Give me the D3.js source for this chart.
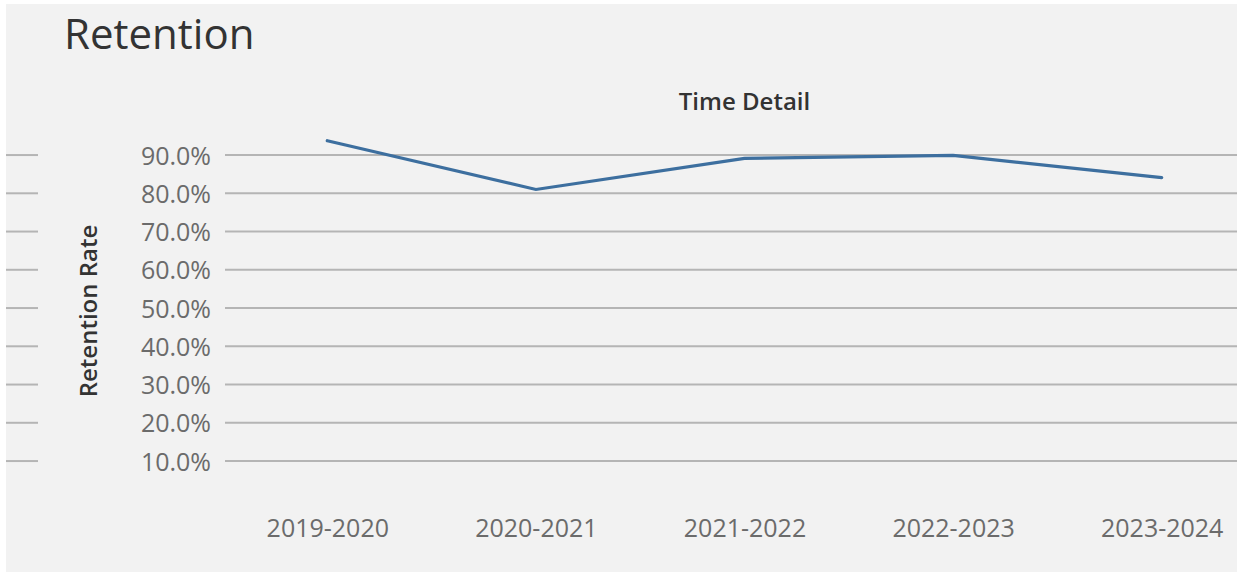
<!DOCTYPE html>
<html>
<head>
<meta charset="utf-8">
<script src="https://cdn.jsdelivr.net/npm/d3@7"></script>
<style>
  html, body { margin: 0; padding: 0; background: #ffffff; }
  svg { display: block; }
  text { font-family: "Open Sans", "Noto Sans", sans-serif; }
</style>
</head>
<body>
<svg id="chart" width="1237" height="575"></svg>
<script>
// Academic years and retention rate per year
const years = ["2019-2020", "2020-2021", "2021-2022", "2022-2023", "2023-2024"];
const retention = [0.9375, 0.810, 0.8915, 0.899, 0.841];
const yTicks = [0.1, 0.2, 0.3, 0.4, 0.5, 0.6, 0.7, 0.8, 0.9];

const W = 1237, H = 575;
const svg = d3.select("#chart");

// card background
svg.append("rect")
  .attr("x", 6).attr("y", 4)
  .attr("width", W - 6).attr("height", H - 7)
  .attr("fill", "#f2f2f2");

const plot = { left: 223, right: 1266, top: 116.8, bottom: 499.3 };

const x = d3.scalePoint()
  .domain(years)
  .range([plot.left, plot.right])
  .padding(0.5);

const y = d3.scaleLinear()
  .domain([0, 1])
  .range([plot.bottom, plot.top]);

// title
svg.append("text")
  .attr("x", 64).attr("y", 49)
  .attr("font-size", 42)
  .attr("fill", "#333333")
  .text("Retention");

// column header
svg.append("text")
  .attr("x", x(years[2])).attr("y", 110)
  .attr("text-anchor", "middle")
  .attr("font-size", 24)
  .attr("font-weight", 600)
  .attr("fill", "#333333")
  .text("Time Detail");

// gridlines in the plot pane
const grid = svg.append("g");
grid.selectAll("line.main")
  .data(yTicks)
  .join("line")
  .attr("class", "main")
  .attr("x1", 225).attr("x2", W)
  .attr("y1", d => y(d)).attr("y2", d => y(d))
  .attr("stroke", "#b5b5b5")
  .attr("stroke-width", 2);

// short gridlines in the left header pane
grid.selectAll("line.stub")
  .data(yTicks)
  .join("line")
  .attr("class", "stub")
  .attr("x1", 6).attr("x2", 38)
  .attr("y1", d => y(d)).attr("y2", d => y(d))
  .attr("stroke", "#b5b5b5")
  .attr("stroke-width", 2);

// y axis tick labels
const yAxis = d3.axisLeft(y)
  .tickValues(yTicks)
  .tickFormat(d3.format(".1%"))
  .tickSize(0)
  .tickPadding(0);

const yg = svg.append("g")
  .attr("transform", "translate(211,0)")
  .call(yAxis);
yg.select(".domain").remove();
yg.selectAll("text")
  .attr("font-family", "'Open Sans', sans-serif")
  .attr("font-size", 25)
  .attr("fill", "#6b6b6b")
  .attr("dy", "0.36em");

// y axis title
svg.append("text")
  .attr("transform", "translate(97,311) rotate(-90)")
  .attr("text-anchor", "middle")
  .attr("font-size", 24)
  .attr("font-weight", 600)
  .attr("fill", "#333333")
  .text("Retention Rate");

// x axis labels
const xAxis = d3.axisBottom(x).tickSize(0).tickPadding(0);
const xg = svg.append("g")
  .attr("transform", "translate(0,537)")
  .call(xAxis);
xg.select(".domain").remove();
xg.selectAll("text")
  .attr("font-family", "'Open Sans', sans-serif")
  .attr("font-size", 25)
  .attr("fill", "#6b6b6b")
  .attr("dy", "0");

// retention line
const line = d3.line()
  .x((d, i) => x(years[i]))
  .y(d => y(d));

svg.append("path")
  .datum(retention)
  .attr("d", line)
  .attr("fill", "none")
  .attr("stroke", "#3d6f9f")
  .attr("stroke-width", 3.2)
  .attr("stroke-linejoin", "miter")
  .attr("stroke-linecap", "round");
</script>
</body>
</html>
